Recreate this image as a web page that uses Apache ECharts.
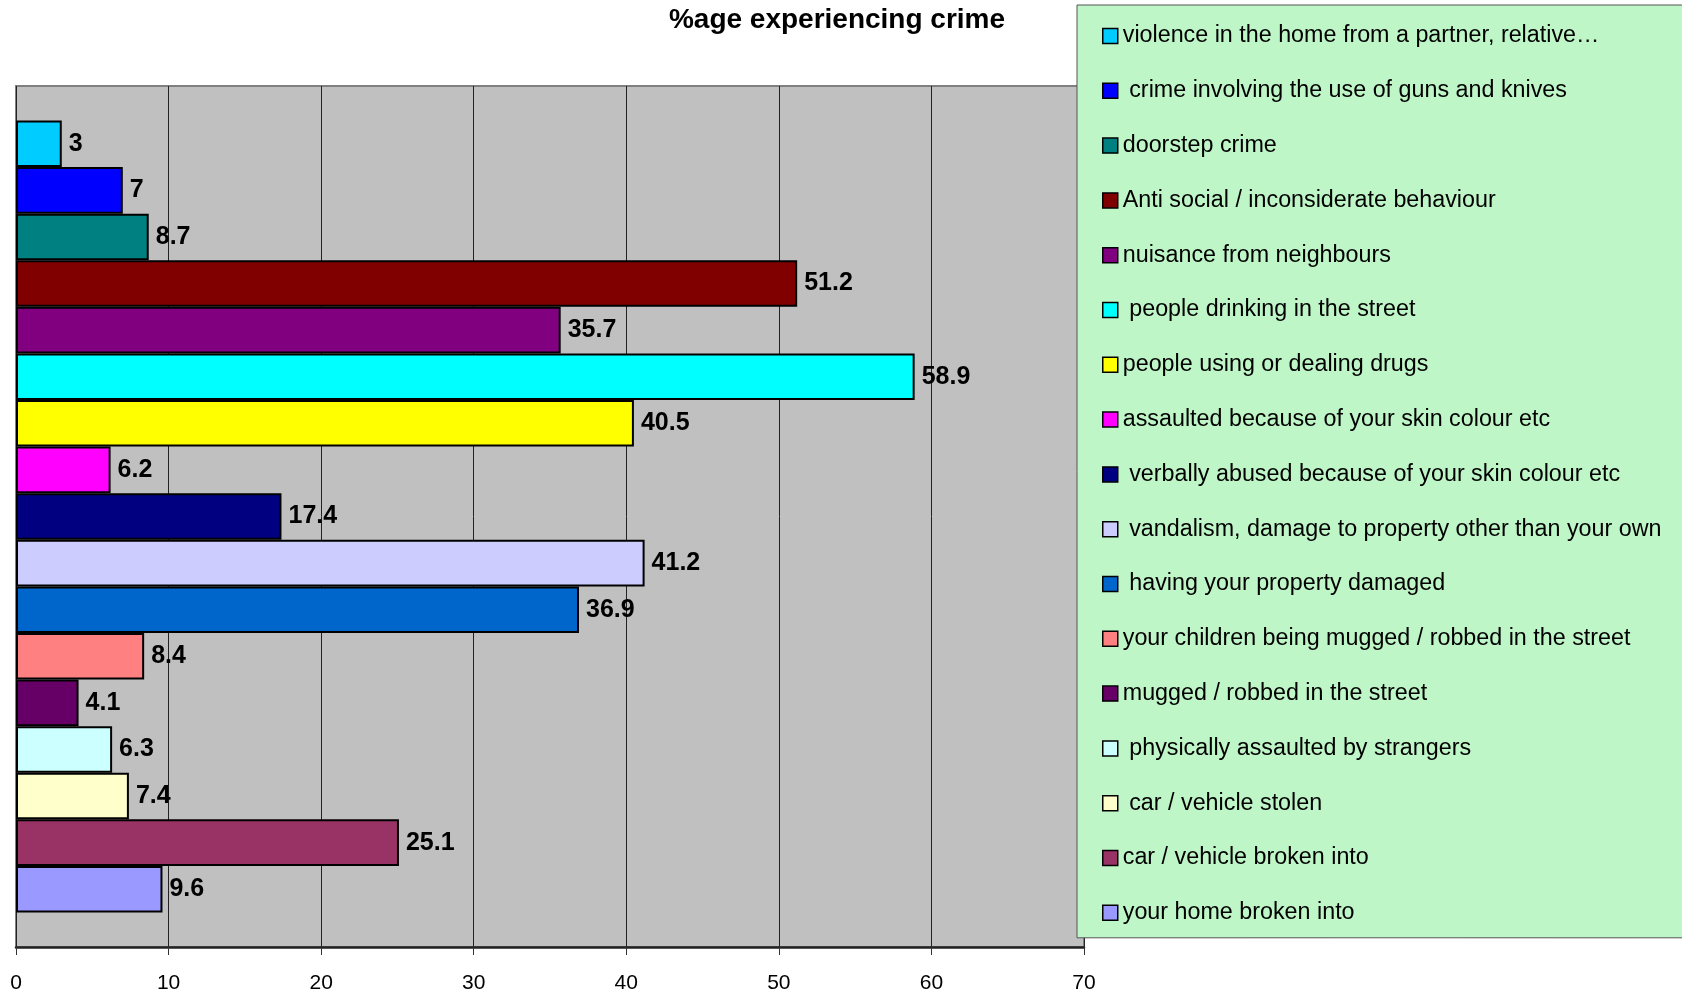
<!DOCTYPE html>
<html>
<head>
<meta charset="utf-8">
<title>%age experiencing crime</title>
<script src="https://cdn.jsdelivr.net/npm/echarts@6/dist/echarts.min.js"></script>
<style>
  html, body { margin: 0; padding: 0; background: #fff; }
  #main { width: 1682px; height: 997px; }
</style>
</head>
<body>
<div id="main"></div>
<script>
// legend order = bar order from top to bottom
var crimeNames = [
    'violence in the home from a partner, relative\u2026',
    ' crime involving the use of guns and knives',
    'doorstep crime',
    'Anti social / inconsiderate behaviour',
    'nuisance from neighbours',
    ' people drinking in the street',
    'people using or dealing drugs',
    'assaulted because of your skin colour etc',
    ' verbally abused because of your skin colour etc',
    ' vandalism, damage to property other than your own',
    ' having your property damaged',
    'your children being mugged / robbed in the street',
    'mugged / robbed in the street',
    ' physically assaulted by strangers',
    ' car / vehicle stolen',
    'car / vehicle broken into',
    'your home broken into'
]
var crimeValues = [3, 7, 8.7, 51.2, 35.7, 58.9, 40.5, 6.2, 17.4, 41.2, 36.9, 8.4, 4.1, 6.3, 7.4, 25.1, 9.6]
var xTicks = [0, 10, 20, 30, 40, 50, 60, 70]

var barColors = ['#00CCFF', '#0000FF', '#008080', '#800000', '#800080', '#00FFFF', '#FFFF00', '#FF00FF',
    '#000080', '#CCCCFF', '#0066CC', '#FF8080', '#660066', '#CCFFFF', '#FFFFCC', '#993366', '#9999FF']

var font = "'Liberation Sans', Arial, sans-serif"

var series = crimeNames.map(function (name, i) {
    return {
        name: name,
        type: 'bar',
        data: [crimeValues[i]],
        barGap: '0%',
        barCategoryGap: '8%',
        itemStyle: { color: barColors[i], borderColor: '#000', borderWidth: 2 },
        label: {
            show: true,
            position: 'right',
            distance: 7,
            color: '#000',
            fontFamily: font,
            fontWeight: 'bold',
            fontSize: 25
        },
        emphasis: { disabled: true },
        animation: false
    }
})

var chart = echarts.init(document.getElementById('main'))
var option = {
    backgroundColor: '#fff',
    animation: false,
    title: {
        text: '%age experiencing crime',
        left: 837,
        textAlign: 'center',
        top: 6,
        padding: 0,
        textStyle: { fontFamily: font, fontWeight: 'bold', fontSize: 28, color: '#000' }
    },
    legend: {
        orient: 'vertical',
        left: 1077,
        top: 5,
        padding: [19, 80, 13, 25],
        backgroundColor: '#BFF6C7',
        borderColor: '#555',
        borderWidth: 1,
        icon: 'rect',
        itemWidth: 15,
        itemHeight: 15,
        itemGap: 30.8,
        itemStyle: { borderColor: '#000', borderWidth: 1.5 },
        textStyle: { fontFamily: font, fontSize: 23.3, lineHeight: 24, color: '#000' },
        selectedMode: false,
        data: crimeNames
    },
    grid: {
        left: 16,
        right: 598,
        top: 86,
        bottom: 50,
        show: true,
        backgroundColor: '#C0C0C0',
        borderColor: '#808080',
        borderWidth: 2
    },
    xAxis: {
        type: 'value',
        min: xTicks[0],
        max: xTicks[xTicks.length - 1],
        interval: 10,
        axisLine: { show: true, lineStyle: { color: '#222', width: 2.5 } },
        axisTick: { show: true, length: 8, lineStyle: { color: '#333' } },
        axisLabel: { margin: 26, color: '#000', fontFamily: font, fontSize: 21 },
        splitLine: { show: true, lineStyle: { color: '#222', width: 1 } }
    },
    yAxis: {
        type: 'category',
        data: [''],
        axisLine: { show: false },
        axisTick: { show: false },
        axisLabel: { show: false }
    },
    series: series
}
chart.setOption(option)
</script>
</body>
</html>
